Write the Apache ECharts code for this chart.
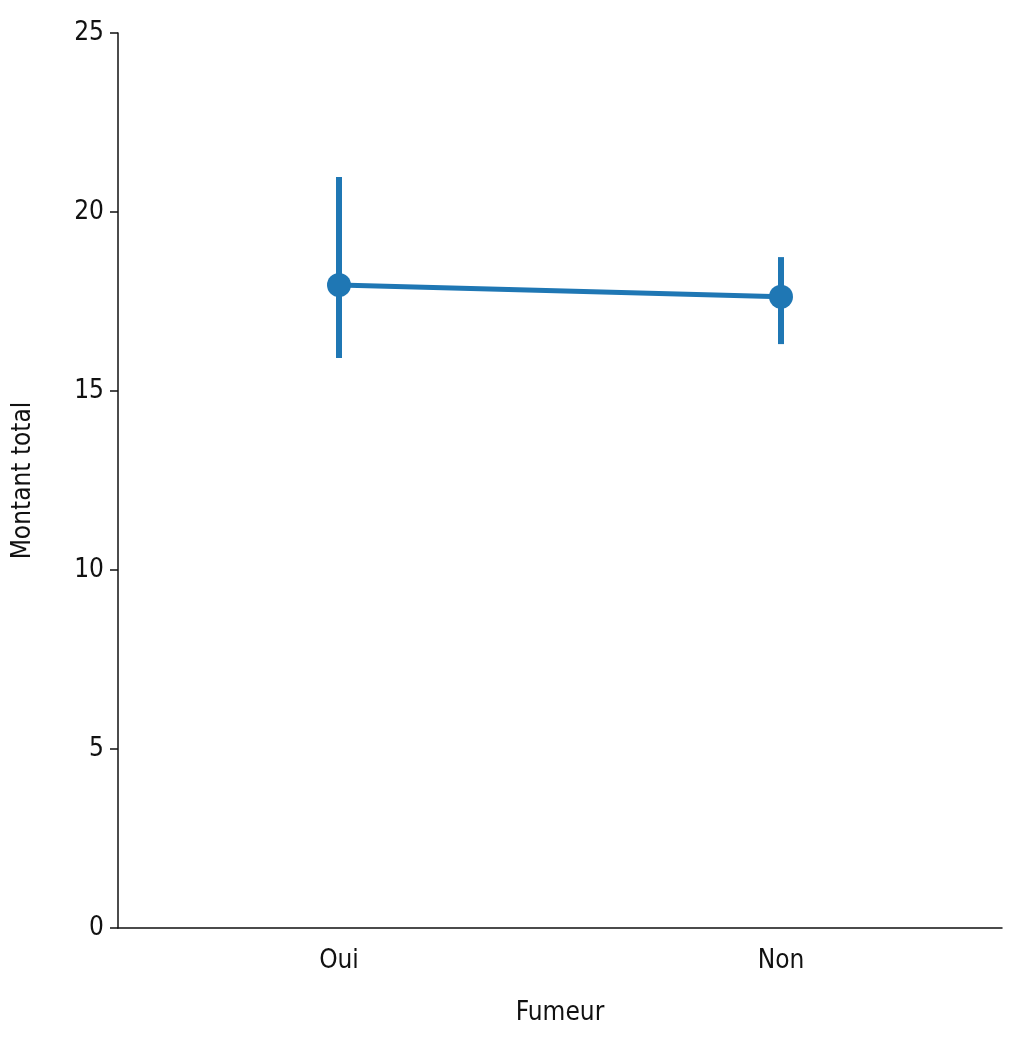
<!DOCTYPE html>
<html>
<head>
<meta charset="utf-8">
<script src="https://cdn.jsdelivr.net/npm/echarts@6/dist/echarts.min.js"></script>
<style>
  html, body { margin: 0; padding: 0; background: #fff; }
  #chart { width: 1024px; height: 1040px; }
</style>
</head>
<body>
<div id="chart"></div>
<script>
// catégories et valeurs
const categories = ['Oui', 'Non']
const means = [17.96, 17.63]
const lowers = [15.92, 16.31]
const uppers = [20.98, 18.74]
const yTicks = [0, 5, 10, 15, 20, 25]

const blue = '#1f77b4'
const chart = echarts.init(document.getElementById('chart'))

chart.setOption({
  animation: false,
  textStyle: { fontFamily: 'DejaVu Sans Condensed, DejaVu Sans' },
  grid: { left: 118, right: 22, top: 33, bottom: 112 },
  xAxis: {
    type: 'category',
    data: categories,
    name: 'Fumeur',
    nameLocation: 'middle',
    nameGap: 72,
    nameTextStyle: { fontSize: 26, color: '#111' },
    axisLine: { lineStyle: { color: '#111', width: 1.5 } },
    axisTick: { alignWithLabel: true, length: 8, lineStyle: { color: '#111', width: 1.5 } },
    axisLabel: { fontSize: 26, color: '#111', margin: 20 },
  },
  yAxis: {
    type: 'value',
    min: yTicks[0],
    max: yTicks[yTicks.length - 1],
    interval: 5,
    name: 'Montant total',
    nameLocation: 'middle',
    nameGap: 82,
    nameTextStyle: { fontSize: 26, color: '#111' },
    splitLine: { show: false },
    axisLine: { show: true, lineStyle: { color: '#111', width: 1.5 } },
    axisTick: { show: true, length: 8, lineStyle: { color: '#111', width: 1.5 } },
    axisLabel: { fontSize: 26, color: '#111', margin: 14 },
  },
  series: [
    {
      type: 'custom',
      data: categories.map((c, i) => [i, lowers[i], uppers[i]]),
      renderItem: function (params, api) {
        const lo = api.coord([api.value(0), api.value(1)])
        const hi = api.coord([api.value(0), api.value(2)])
        return {
          type: 'line',
          shape: { x1: lo[0], y1: lo[1], x2: hi[0], y2: hi[1] },
          style: { stroke: blue, lineWidth: 6 },
        }
      },
      z: 2,
    },
    {
      type: 'line',
      data: means,
      symbol: 'circle',
      symbolSize: 24,
      lineStyle: { color: blue, width: 5 },
      itemStyle: { color: blue },
      z: 3,
    },
  ],
})
</script>
</body>
</html>
